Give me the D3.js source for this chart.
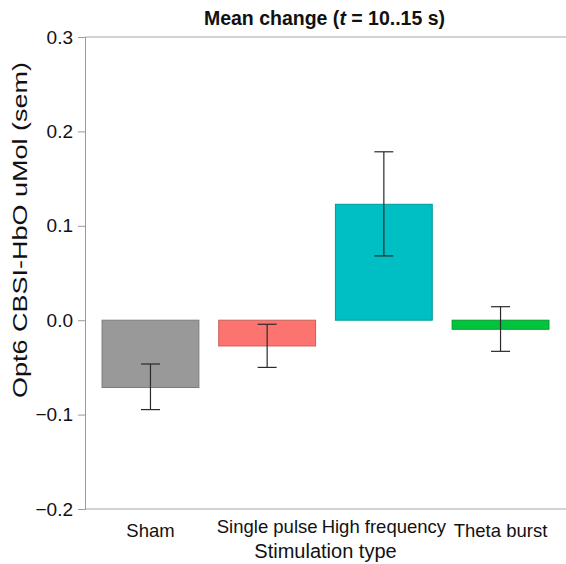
<!DOCTYPE html>
<html>
<head>
<meta charset="utf-8">
<script src="https://cdn.jsdelivr.net/npm/d3@7"></script>
<style>
  body { margin: 0; background: #fff; }
  text { font-family: "Liberation Sans", Arial, sans-serif; }
</style>
</head>
<body>
<div id="chart"></div>
<script>
// data
var categories = ["Sham", "Single pulse", "High frequency", "Theta burst"];
var means = [-0.0713, -0.0273, 0.1228, -0.0096];
var errLow = [-0.0947, -0.0500, 0.0681, -0.0330];
var errHigh = [-0.0464, -0.0043, 0.1784, 0.0143];
var barColors = ["#999999", "#FB746F", "#00BFC4", "#00C43C"];
var yTicks = [-0.2, -0.1, 0.0, 0.1, 0.2, 0.3];

var svgWidth = 566;
var svgHeight = 564;
var margin = { top: 37, right: 0, bottom: 55, left: 85 };
var chartWidth = svgWidth - margin.left - margin.right;
var chartHeight = svgHeight - margin.top - margin.bottom;

var svg = d3.select("#chart")
  .append("svg")
  .attr("width", svgWidth)
  .attr("height", svgHeight);

var chartGroup = svg.append("g")
  .attr("transform", `translate(${margin.left}, ${margin.top})`);

var x = d3.scaleBand()
  .domain(categories)
  .range([0, chartWidth])
  .paddingInner(0.17)
  .paddingOuter(0.146);

var y = d3.scaleLinear()
  .domain([-0.2, 0.3])
  .range([chartHeight, 0]);

var rows = categories.map(function(c, i) {
  return { cat: c, mean: means[i], lo: errLow[i], hi: errHigh[i], color: barColors[i] };
});

// frame: top and bottom lines, left axis
chartGroup.append("line")
  .attr("x1", 0).attr("x2", chartWidth)
  .attr("y1", 0).attr("y2", 0)
  .attr("stroke", "#a6a6a6").attr("stroke-width", 1.2);

chartGroup.append("line")
  .attr("x1", 0).attr("x2", chartWidth)
  .attr("y1", chartHeight).attr("y2", chartHeight)
  .attr("stroke", "#a6a6a6").attr("stroke-width", 1.2);

var yAxis = d3.axisLeft(y)
  .tickValues(yTicks)
  .tickSize(7)
  .tickPadding(5)
  .tickFormat(d3.format(".1f"));

var yAxisG = chartGroup.append("g").call(yAxis);
yAxisG.select(".domain").attr("stroke", "#9a9a9a");
yAxisG.selectAll(".tick line").attr("stroke", "#9a9a9a");
yAxisG.selectAll(".tick text")
  .attr("font-size", "19px")
  .attr("fill", "#111")
  .style("font-family", "Liberation Sans, Arial, sans-serif");

// bars
chartGroup.selectAll("rect.bar")
  .data(rows)
  .enter()
  .append("rect")
  .attr("class", "bar")
  .attr("x", d => x(d.cat))
  .attr("width", x.bandwidth())
  .attr("y", d => y(Math.max(0, d.mean)))
  .attr("height", d => Math.abs(y(d.mean) - y(0)))
  .attr("fill", d => d.color)
  .attr("stroke", d => d3.color(d.color).darker(0.6))
  .attr("stroke-width", 1);

// error bars
var capW = 19;
var err = chartGroup.selectAll("g.err")
  .data(rows)
  .enter()
  .append("g")
  .attr("class", "err")
  .attr("stroke", "#2b2b2b")
  .attr("stroke-width", 1.2);

err.append("line")
  .attr("x1", d => x(d.cat) + x.bandwidth() / 2)
  .attr("x2", d => x(d.cat) + x.bandwidth() / 2)
  .attr("y1", d => y(d.lo))
  .attr("y2", d => y(d.hi));

err.append("line")
  .attr("x1", d => x(d.cat) + x.bandwidth() / 2 - capW / 2)
  .attr("x2", d => x(d.cat) + x.bandwidth() / 2 + capW / 2)
  .attr("y1", d => y(d.hi))
  .attr("y2", d => y(d.hi));

err.append("line")
  .attr("x1", d => x(d.cat) + x.bandwidth() / 2 - capW / 2)
  .attr("x2", d => x(d.cat) + x.bandwidth() / 2 + capW / 2)
  .attr("y1", d => y(d.lo))
  .attr("y2", d => y(d.lo));

// category labels (labels with descenders sit a bit higher, like the original)
chartGroup.selectAll("text.cat")
  .data(categories)
  .enter()
  .append("text")
  .attr("class", "cat")
  .attr("x", d => x(d) + x.bandwidth() / 2)
  .attr("y", d => chartHeight + (/[gjpqy]/.test(d) ? 24 : 28))
  .attr("text-anchor", "middle")
  .attr("font-size", "18.5px")
  .attr("fill", "#111")
  .text(d => d);

// axis titles
chartGroup.append("text")
  .attr("x", chartWidth / 2)
  .attr("y", chartHeight + 49)
  .attr("text-anchor", "middle")
  .attr("font-size", "20px")
  .attr("fill", "#111")
  .text("Stimulation type");

svg.append("text")
  .attr("transform", "translate(27, 230) rotate(-90)")
  .attr("text-anchor", "middle")
  .attr("font-size", "19.5px")
  .attr("fill", "#111")
  .attr("textLength", 336)
  .attr("lengthAdjust", "spacingAndGlyphs")
  .text("Opt6 CBSI-HbO uMol (sem)");

// title
var title = svg.append("text")
  .attr("x", margin.left + chartWidth / 2 - 1)
  .attr("y", 25)
  .attr("text-anchor", "middle")
  .attr("font-size", "19.5px")
  .attr("font-weight", "bold")
  .attr("fill", "#111");
title.append("tspan").text("Mean  change (");
title.append("tspan").attr("font-style", "italic").text("t");
title.append("tspan").text(" = 10..15 s)");
</script>
</body>
</html>
